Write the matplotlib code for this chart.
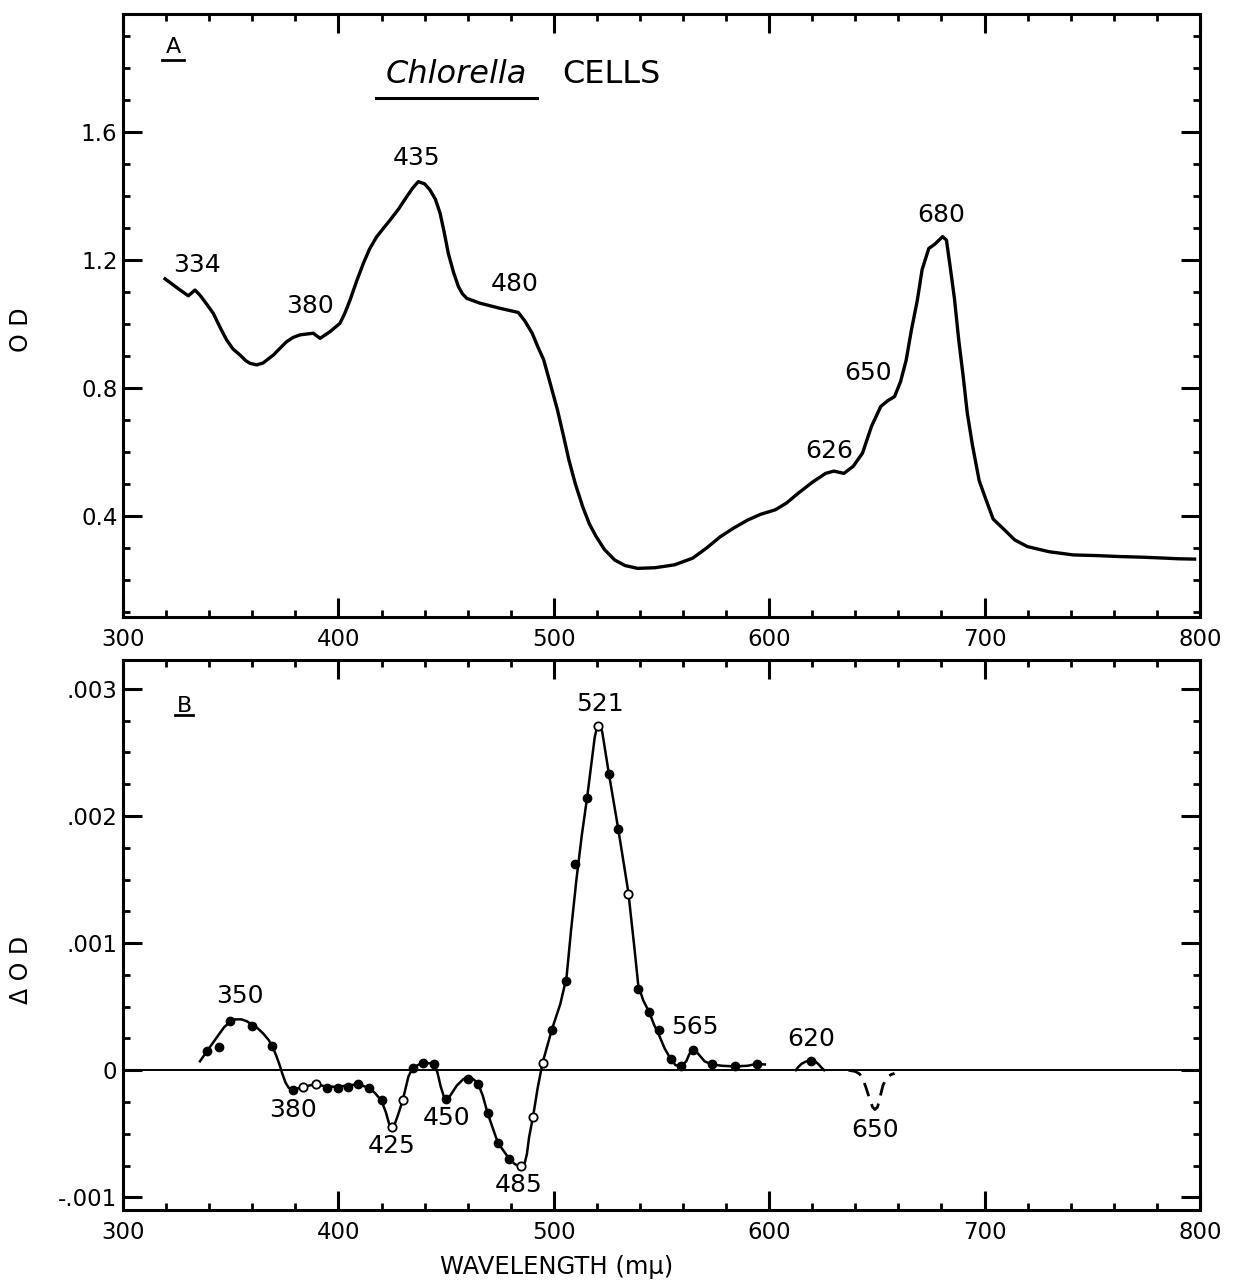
import matplotlib
matplotlib.use('Agg')
import matplotlib.pyplot as plt
from matplotlib.ticker import MultipleLocator, FixedLocator, FixedFormatter

plt.rcParams['font.family'] = ['DejaVu Sans']

# ---- panel A: absorption spectrum of Chlorella cells ----
wl_a = [319.5, 326.5, 330.3, 333.4, 335.7, 338.5, 341.9, 345.0, 348.1, 351.0,
        354.3, 357.0, 359.0, 362.0, 365.0, 369.8, 373.0, 376.0, 379.0, 382.2,
        388.3, 391.5, 396.1, 400.7, 403.0, 405.4, 408.5, 411.6, 414.5, 417.8,
        421.0, 424.0, 428.0, 431.7, 434.5, 437.1, 440.0, 442.5, 445.0, 447.2,
        449.0, 451.0, 453.5, 455.7, 457.5, 459.6, 465.7, 475.0, 483.5, 486.5,
        489.9, 492.5, 495.3, 498.5, 501.7, 504.5, 507.0, 510.0, 513.4, 516.5,
        519.7, 523.5, 528.3, 533.0, 538.9, 547.0, 556.0, 564.5, 571.0, 577.3,
        583.5, 590.0, 596.0, 602.8, 608.0, 613.5, 620.0, 626.2, 630.0, 634.7,
        639.0, 643.3, 647.5, 651.8, 655.0, 658.2, 661.0, 663.6, 666.0, 668.8,
        671.0, 674.1, 677.0, 680.5, 682.3, 684.0, 686.0, 688.0, 690.0, 692.0,
        694.4, 697.5, 700.7, 704.0, 709.3, 714.0, 719.9, 730.0, 741.2, 752.0,
        762.5, 773.0, 783.8, 790.0, 797.5]
od_a = [1.141, 1.106, 1.088, 1.106, 1.090, 1.065, 1.033, 0.990, 0.950, 0.922,
        0.903, 0.885, 0.877, 0.872, 0.878, 0.903, 0.925, 0.945, 0.958, 0.966,
        0.971, 0.955, 0.976, 1.002, 1.034, 1.075, 1.135, 1.190, 1.235, 1.273,
        1.300, 1.325, 1.360, 1.398, 1.425, 1.445, 1.438, 1.419, 1.390, 1.346,
        1.290, 1.221, 1.160, 1.117, 1.095, 1.080, 1.065, 1.049, 1.036, 1.010,
        0.972, 0.930, 0.888, 0.810, 0.731, 0.650, 0.575, 0.500, 0.429, 0.375,
        0.335, 0.295, 0.262, 0.245, 0.236, 0.238, 0.247, 0.268, 0.300, 0.335,
        0.362, 0.387, 0.405, 0.419, 0.440, 0.471, 0.505, 0.533, 0.540, 0.533,
        0.555, 0.596, 0.680, 0.742, 0.760, 0.773, 0.820, 0.887, 0.980, 1.075,
        1.170, 1.236, 1.250, 1.273, 1.262, 1.180, 1.080, 0.950, 0.840, 0.720,
        0.620, 0.510, 0.450, 0.390, 0.356, 0.325, 0.304, 0.288, 0.278, 0.276,
        0.273, 0.271, 0.268, 0.266, 0.265]
peaks_a = ['334', '380', '435', '480', '626', '650', '680']
peak_x_a = [334.4, 386.8, 436.5, 482.0, 627.8, 645.9, 679.8]
peak_y_a = [1.184, 1.056, 1.519, 1.125, 0.603, 0.847, 1.341]

# ---- panel B: light-induced difference spectrum (units of 0.001 OD) ----
wl_line = [335.7, 339.0, 344.0, 347.0, 349.7, 352.0, 355.0, 357.5, 359.7, 362.5,
           365.0, 367.5, 369.3, 371.0, 372.5, 374.0, 375.5, 377.0, 379.0, 383.7,
           389.6, 394.6, 399.6, 404.6, 409.3, 414.2, 417.0, 420.0, 422.0, 423.5,
           424.7, 426.0, 427.5, 429.8, 431.5, 432.5, 434.5, 439.2, 444.5, 446.0,
           447.5, 449.0, 450.0, 451.5, 455.0, 458.0, 460.0, 462.5, 464.7, 467.0,
           469.3, 474.0, 479.4, 482.0, 484.6, 486.5, 487.5, 488.5, 490.5, 492.5,
           494.8, 499.1, 503.0, 505.9, 508.0, 510.5, 513.0, 515.5, 517.5, 519.0,
           520.2, 521.2, 522.5, 524.0, 525.6, 529.9, 534.6, 537.5, 539.2, 541.5,
           544.2, 546.5, 549.0, 551.5, 554.2, 556.5, 559.1, 561.5, 563.0, 564.5,
           566.0, 568.0, 570.0, 573.4, 578.0, 584.1, 590.0, 594.3, 598.0]
dod_line = [0.07, 0.15, 0.27, 0.34, 0.38, 0.40, 0.40, 0.385, 0.36, 0.33,
            0.29, 0.24, 0.19, 0.12, 0.05, -0.03, -0.10, -0.14, -0.155, -0.13,
            -0.11, -0.13, -0.13, -0.12, -0.11, -0.14, -0.18, -0.24, -0.33, -0.42,
            -0.45, -0.43, -0.36, -0.24, -0.12, -0.05, 0.02, 0.06, 0.05, -0.02,
            -0.13, -0.21, -0.23, -0.21, -0.12, -0.07, -0.06, -0.07, -0.10, -0.20,
            -0.34, -0.57, -0.70, -0.74, -0.76, -0.73, -0.66, -0.53, -0.35, -0.14,
            0.06, 0.32, 0.52, 0.73, 1.10, 1.50, 1.85, 2.15, 2.42, 2.62,
            2.71, 2.73, 2.66, 2.50, 2.33, 1.90, 1.40, 0.95, 0.67, 0.55,
            0.46, 0.36, 0.27, 0.17, 0.09, 0.04, 0.03, 0.07, 0.13, 0.15,
            0.15, 0.11, 0.07, 0.045, 0.035, 0.03, 0.035, 0.05, 0.045]
wl_620 = [612.4, 613.5, 615.0, 617.0, 619.4, 621.5, 623.0, 624.3, 625.5]
dod_620 = [0.0, 0.025, 0.05, 0.068, 0.075, 0.068, 0.045, 0.02, 0.0]
wl_650 = [636.8, 640.0, 642.0, 643.5, 645.0, 646.5, 648.0, 649.1, 650.3, 651.5,
          652.8, 654.5, 656.5, 658.2]
dod_650 = [0.0, -0.01, -0.03, -0.07, -0.14, -0.22, -0.29, -0.31, -0.29, -0.21,
           -0.12, -0.06, -0.035, -0.025]

wl_filled = [339.0, 344.6, 349.7, 359.7, 369.3, 379.0, 394.6, 399.6, 404.6, 409.3,
             414.2, 420.0, 434.5, 439.2, 444.5, 450.0, 460.0, 464.7, 469.3, 474.0,
             479.4, 499.1, 505.8, 510.0, 515.3, 525.6, 529.9, 539.2, 544.2, 549.0,
             554.2, 559.1, 564.5, 573.4, 584.1, 594.3, 619.4]
dod_filled = [0.15, 0.18, 0.386, 0.35, 0.19, -0.157, -0.14, -0.14, -0.13, -0.11,
              -0.14, -0.236, 0.02, 0.058, 0.052, -0.23, -0.066, -0.105, -0.34, -0.57,
              -0.70, 0.315, 0.70, 1.62, 2.14, 2.33, 1.90, 0.64, 0.46, 0.315,
              0.09, 0.03, 0.16, 0.045, 0.03, 0.05, 0.07]
wl_open = [383.7, 389.6, 424.7, 429.8, 484.6, 490.5, 494.8, 520.7, 534.6]
dod_open = [-0.13, -0.11, -0.45, -0.236, -0.756, -0.37, 0.058, 2.71, 1.39]

peaks_b = ['350', '380', '425', '450', '485', '521', '565', '620', '650']
peak_x_b = [354.3, 378.9, 424.9, 450.0, 483.8, 521.4, 565.6, 619.4, 649.1]
peak_y_b = [0.583, -0.315, -0.598, -0.378, -0.906, 2.88, 0.339, 0.244, -0.472]

b_ticks = [-0.001, 0.0, 0.001, 0.002, 0.003]
b_tick_labels = ['-.001', '0', '.001', '.002', '.003']

SCALE = 1e-3

fig = plt.figure(figsize=(12.33, 12.83), dpi=100)
ax_a = fig.add_axes([0.0998, 0.5191, 0.8734, 0.4700])
ax_b = fig.add_axes([0.0998, 0.0569, 0.8734, 0.4287])


def style_axes(ax):
    for s in ax.spines.values():
        s.set_linewidth(2.2)
    ax.set_xlim(300, 800)
    ax.xaxis.set_major_locator(MultipleLocator(100))
    ax.xaxis.set_minor_locator(MultipleLocator(20))
    ax.tick_params(which='both', direction='in', top=True, right=True,
                   labelsize=16.5, pad=8)
    ax.tick_params(which='major', length=14, width=2.2)
    ax.tick_params(which='minor', length=5, width=2.0)
    ax.tick_params(axis='y', pad=4)


# panel A
style_axes(ax_a)
ax_a.set_ylim(0.084, 1.969)
ax_a.yaxis.set_major_locator(FixedLocator([0.4, 0.8, 1.2, 1.6]))
ax_a.yaxis.set_minor_locator(MultipleLocator(0.1))
ax_a.set_yticklabels(['0.4', '0.8', '1.2', '1.6'])
ax_a.plot(wl_a, od_a, color='black', lw=2.4, solid_joinstyle='round')
for lab, x, y in zip(peaks_a, peak_x_a, peak_y_a):
    ax_a.text(x, y, lab, ha='center', va='center', fontsize=18)

ax_a.text(323.4, 1.847, 'A', ha='center', va='baseline', fontsize=16)
ax_a.plot([318.1, 328.3], [1.825, 1.825], color='black', lw=2)
ax_a.text(454.6, 1.753, 'Chlorella', ha='center', va='baseline', fontsize=23,
          style='italic')
ax_a.text(526.6, 1.753, 'CELLS', ha='center', va='baseline', fontsize=23)
ax_a.plot([417.5, 492.2], [1.706, 1.706], color='black', lw=2.2)

# panel B
style_axes(ax_b)
ax_b.set_ylim(-0.0011, 0.003228)
ax_b.yaxis.set_major_locator(FixedLocator(b_ticks))
ax_b.yaxis.set_major_formatter(FixedFormatter(b_tick_labels))
ax_b.yaxis.set_minor_locator(MultipleLocator(0.00025))
ax_b.axhline(0, color='black', lw=1.4)

ax_b.plot(wl_line, [v * SCALE for v in dod_line], color='black', lw=1.8,
          solid_joinstyle='round')
ax_b.plot(wl_620, [v * SCALE for v in dod_620], color='black', lw=1.8)
ax_b.plot(wl_650, [v * SCALE for v in dod_650], color='black', lw=2.0,
          ls=(0, (5, 3)))
ax_b.plot(wl_filled, [v * SCALE for v in dod_filled], 'o', color='black',
          ms=6, zorder=4)
ax_b.plot(wl_open, [v * SCALE for v in dod_open], 'o', mfc='white', mec='black',
          mew=1.3, ms=6, zorder=4)
for lab, x, y in zip(peaks_b, peak_x_b, peak_y_b):
    ax_b.text(x, y * SCALE, lab, ha='center', va='center', fontsize=18)

ax_b.text(328.6, 0.002819, 'B', ha='center', va='baseline', fontsize=16)
ax_b.plot([324.1, 332.5], [0.002795, 0.002795], color='black', lw=2)

# axis labels
fig.text(21 / 1233, 1 - 330 / 1283, 'O D', rotation=90, ha='center', va='center',
         fontsize=17)
fig.text(21 / 1233, 1 - 970 / 1283, '\u0394 O D', rotation=90, ha='center',
         va='center', fontsize=17)
fig.text(557 / 1233, 1 - 1267 / 1283, 'WAVELENGTH (m\u03bc)', ha='center',
         va='center', fontsize=17.5)

fig.savefig('out.png', dpi=100)
